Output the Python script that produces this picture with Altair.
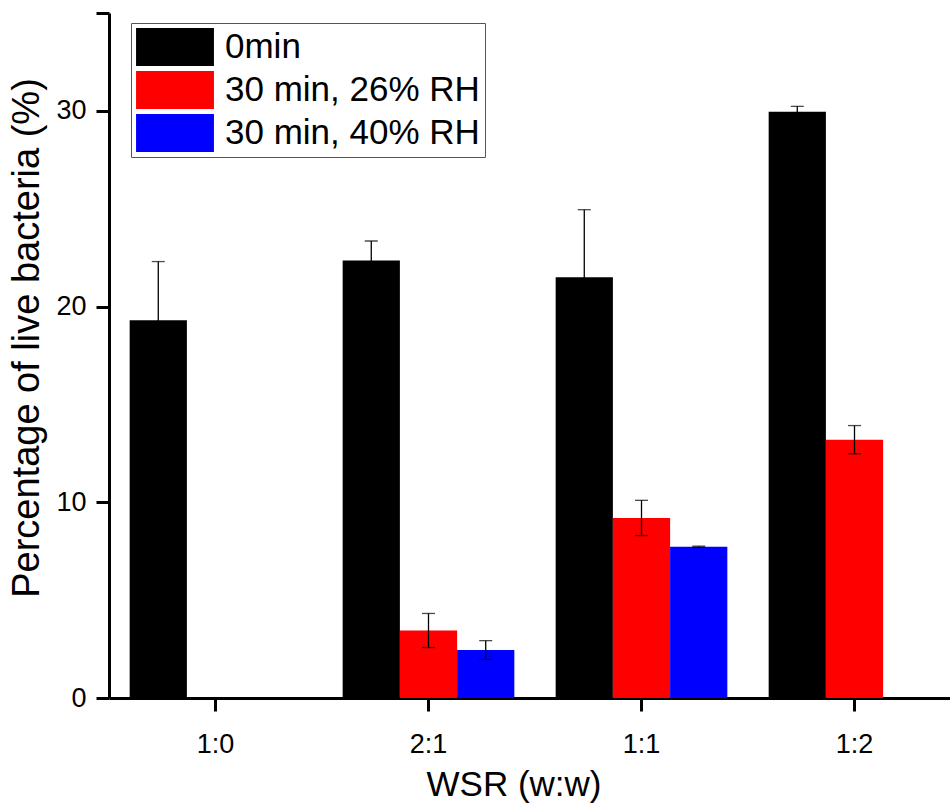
import altair as alt
import pandas as pd

# WSR ratios on the x axis and the three exposure conditions
ratios = ["1:0", "2:1", "1:1", "1:2"]
series = ["0min", "30 min, 26% RH", "30 min, 40% RH"]
colors = ["#000000", "#ff0000", "#0000ff"]

# Percentage of live bacteria (mean) and error (±) per ratio
live_0min = [19.3, 22.35, 21.5, 29.95]
err_0min = [3.0, 1.0, 3.45, 0.28]
live_26rh = [None, 3.45, 9.2, 13.2]
err_26rh = [None, 0.87, 0.9, 0.72]
live_40rh = [None, 2.45, 7.73, None]
err_40rh = [None, 0.48, 0.03, None]

rows = []
for name, vals, errs in zip(series,
                            [live_0min, live_26rh, live_40rh],
                            [err_0min, err_26rh, err_40rh]):
    for r, v, e in zip(ratios, vals, errs):
        if v is not None:
            rows.append({"ratio": r, "series": name, "value": v,
                         "lo": v - e, "hi": v + e})
df = pd.DataFrame(rows)

FONT = "Liberation Sans"

x_enc = alt.X(
    "ratio:N", sort=ratios, title="WSR (w:w)",
    scale=alt.Scale(range=[0, 852], paddingInner=0.194, paddingOuter=0.097),
    axis=alt.Axis(labelAngle=0, tickSize=13, tickWidth=3, domainWidth=3,
                  labelPadding=20, labelFontSize=27, titleFontSize=35,
                  titleX=404.5, titleY=97, titleBaseline="alphabetic",
                  titleFontWeight="normal"),
)
off_enc = alt.XOffset("series:N", sort=series,
                      scale=alt.Scale(domain=series, paddingInner=0, paddingOuter=0))
y_axis = alt.Axis(values=[0, 10, 20, 30, 35],
                  labelExpr="datum.value == 35 ? '' : datum.label",
                  grid=False, tickSize=13, tickWidth=3, domainWidth=3,
                  labelPadding=10, labelFontSize=27, titleFontSize=38,
                  titleX=-71, titleY=324.5, titleBaseline="alphabetic",
                  titleFontWeight="normal")
y_scale = alt.Scale(domain=[0, 35], nice=False, zero=True)

legend = alt.Legend(
    title=None, orient="none", legendX=22, legendY=10,
    symbolType="M-2.05,-1H2.05V1H-2.05Z", symbolSize=1444,
    symbolOffset=20, symbolStrokeWidth=0, symbolOpacity=1,
    labelOffset=31, labelFontSize=35, labelLimit=600, rowPadding=5,
    padding=5, strokeColor="#555555", fillColor="white",
)

bars = alt.Chart(df).mark_bar(opacity=1).encode(
    x=x_enc,
    xOffset=off_enc,
    y=alt.Y("value:Q", scale=y_scale, axis=y_axis,
            title="Percentage of live bacteria (%)"),
    color=alt.Color("series:N", sort=series,
                    scale=alt.Scale(domain=series, range=colors), legend=legend),
)

whiskers = alt.Chart(df).mark_rule(color="#000000", strokeWidth=1.3).encode(
    x=x_enc, xOffset=off_enc,
    y=alt.Y("lo:Q", scale=y_scale), y2="hi:Q",
)

caps = alt.Chart(df).transform_fold(
    ["lo", "hi"], as_=["end", "ev"]
).mark_tick(color="#000000", thickness=1.3, size=13, orient="horizontal").encode(
    x=x_enc, xOffset=off_enc,
    y=alt.Y("ev:Q", scale=y_scale),
)

chart = alt.layer(bars, whiskers, caps).properties(
    width=841, height=685,
    autosize=alt.AutoSizeParams(type="none"),
    padding={"left": 109, "top": 13, "right": 0, "bottom": 106},
).configure(
    font=FONT,
).configure_view(
    stroke=None,
).configure_axis(
    domainColor="black", tickColor="black", labelColor="black",
    titleColor="black", labelFont=FONT, titleFont=FONT,
).configure_legend(
    labelFont=FONT, labelColor="black",
)

chart.save("out.html", embed_options={"renderer": "svg", "actions": False})
